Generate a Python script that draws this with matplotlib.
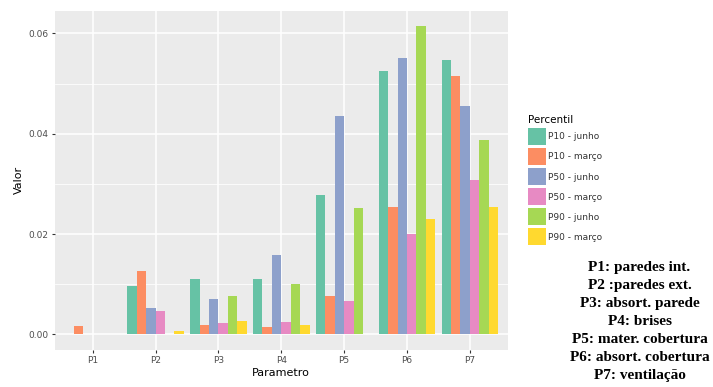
import numpy as np
import matplotlib.pyplot as plt
from matplotlib.patches import Patch

# dados
parametros = ["P1", "P2", "P3", "P4", "P5", "P6", "P7"]
percentis = ["P10 - junho", "P10 - março", "P50 - junho",
             "P50 - março", "P90 - junho", "P90 - março"]
p10_junho = [0.0, 0.0096, 0.0111, 0.0111, 0.0278, 0.0525, 0.0548]
p10_marco = [0.0017, 0.0126, 0.0018, 0.0015, 0.0077, 0.0255, 0.0515]
p50_junho = [0.0, 0.0052, 0.0070, 0.0158, 0.0435, 0.0551, 0.0455]
p50_marco = [0.0, 0.0046, 0.0023, 0.0024, 0.0066, 0.0200, 0.0308]
p90_junho = [0.0, 0.0, 0.0076, 0.0101, 0.0252, 0.0614, 0.0387]
p90_marco = [0.0, 0.0007, 0.0026, 0.0019, 0.0, 0.0230, 0.0255]
series = [p10_junho, p10_marco, p50_junho, p50_marco, p90_junho, p90_marco]
cores = ["#66C2A5", "#FC8D62", "#8DA0CB", "#E78AC3", "#A6D854", "#FFD92F"]

nota = ["P1: paredes int.", "P2 :paredes ext.", "P3: absort. parede",
        "P4: brises", "P5: mater. cobertura", "P6: absort. cobertura",
        "P7: ventilação"]

fig = plt.figure(figsize=(7.13, 3.87), dpi=100)
ax = fig.add_axes([0.077, 0.096, 0.635, 0.876])
ax.set_facecolor("#EBEBEB")

x = np.arange(1, len(parametros) + 1)
w = 0.9 / len(series)
for i, (vals, c) in enumerate(zip(series, cores)):
    ax.bar(x - 0.45 + w * (i + 0.5), vals, width=w, color=c, zorder=3)

ax.set_xlim(0.4, 7.6)
ax.set_ylim(-0.00307, 0.0645)
ax.set_xticks(x)
ax.set_xticklabels(parametros)
ax.set_yticks([0.0, 0.02, 0.04, 0.06])
ax.set_yticklabels(["0.00", "0.02", "0.04", "0.06"])
ax.set_yticks([0.01, 0.03, 0.05], minor=True)
ax.grid(which="major", color="white", linewidth=1.1, zorder=0)
ax.grid(which="minor", axis="y", color="white", linewidth=0.55, zorder=0)
ax.tick_params(which="major", length=2.5, color="#333333", labelsize=6.5,
               labelcolor="#4D4D4D", pad=2)
ax.tick_params(which="minor", length=0)
for s in ax.spines.values():
    s.set_visible(False)
ax.set_xlabel("Parametro", fontsize=8, labelpad=2)
ax.set_ylabel("Valor", fontsize=8, labelpad=3)

handles = [Patch(facecolor=c, label=p) for c, p in zip(cores, percentis)]
leg = fig.legend(handles=handles, title="Percentil", loc="upper left",
                 bbox_to_anchor=(0.735, 0.712), frameon=False, fontsize=6.5,
                 title_fontsize=7.5, handlelength=2.0, handleheight=2.5,
                 handletextpad=0.3, labelspacing=0.35, borderaxespad=0)
leg._legend_box.align = "left"
for t in leg.get_texts():
    t.set_color("#333333")

fig.text(0.897, 0.325, "\n".join(nota), ha="center", va="top",
         fontsize=11, fontweight="bold", family="Liberation Serif",
         linespacing=1.5)

fig.savefig("out.png", dpi=100)
